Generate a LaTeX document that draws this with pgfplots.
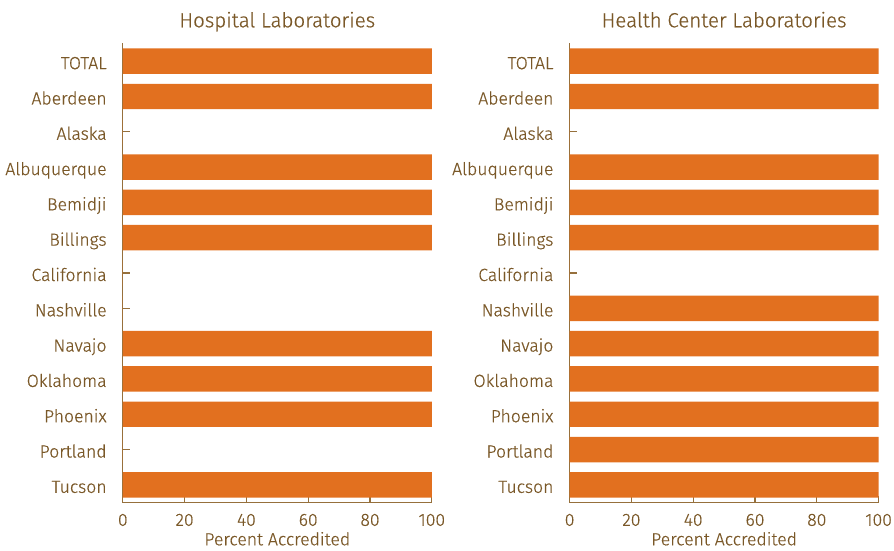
\documentclass[border=0pt]{standalone}
\usepackage{fontspec}
\setmainfont{Fira Sans Light}[FakeBold=0.5]
\usepackage{pgfplots}
\usepackage{pgfplotstable}
\pgfplotsset{compat=1.18}
\definecolor{barc}{RGB}{226,112,31}
\definecolor{txt}{RGB}{122,88,40}
\definecolor{axc}{RGB}{150,112,60}

% y = 12 for TOTAL (top) down to 0 for Tucson (bottom)
\pgfplotstableread{
y hosp hc
12 100 100
11 100 100
10 0 0
9 100 100
8 100 100
7 100 100
6 0 0
5 0 100
4 100 100
3 100 100
2 100 100
1 0 100
0 100 100
}\data

\pgfplotsset{
  labstyle/.style={
    xbar, scale only axis, width=309pt, height=459pt,
    xmin=0, xmax=100, ymin=-0.5, ymax=12.5,
    axis x line*=bottom, axis y line*=left,
    axis line style={axc, line width=1.1pt, -},
    ytick={0,...,12},
    yticklabels={Tucson,Portland,Phoenix,Oklahoma,Navajo,Nashville,California,Billings,Bemidji,Albuquerque,Alaska,Aberdeen,TOTAL},
    xtick={0,20,...,100},
    tick align=inside,
    major tick length=7pt,
    tick style={axc, line width=1.1pt},
    /pgf/number format/assume math mode=true,
    ticklabel style={font=\fontsize{17.6}{20}\selectfont, text=txt, inner sep=0pt},
    yticklabel style={anchor=base east, xshift=-16pt, yshift=-8pt},
    xticklabel style={anchor=base, yshift=-23.3pt},
    xlabel={Percent Accredited},
    xlabel style={at={(axis description cs:0.5,0)}, anchor=base, yshift=-42.8pt, inner sep=0pt,
      font=\fontsize{17.6}{20}\selectfont, text=txt},
    title style={at={(axis description cs:0.5,1)}, anchor=base, yshift=10.2pt, inner sep=0pt,
      font=\fontsize{20.5}{24}\selectfont, text=txt},
    bar width=0.72,
  }
}

\begin{document}
\begin{tikzpicture}
\useasboundingbox (0,0) rectangle (894pt,550pt);
\begin{axis}[labstyle, at={(122.8pt,47.5pt)}, anchor=south west,
  title={Hospital Laboratories}]
\addplot[fill=barc, draw=none] table[x=hosp, y=y] {\data};
\end{axis}
\begin{axis}[labstyle, at={(569.6pt,47.5pt)}, anchor=south west,
  title={Health Center Laboratories}]
\addplot[fill=barc, draw=none] table[x=hc, y=y] {\data};
\end{axis}
\end{tikzpicture}
\end{document}
